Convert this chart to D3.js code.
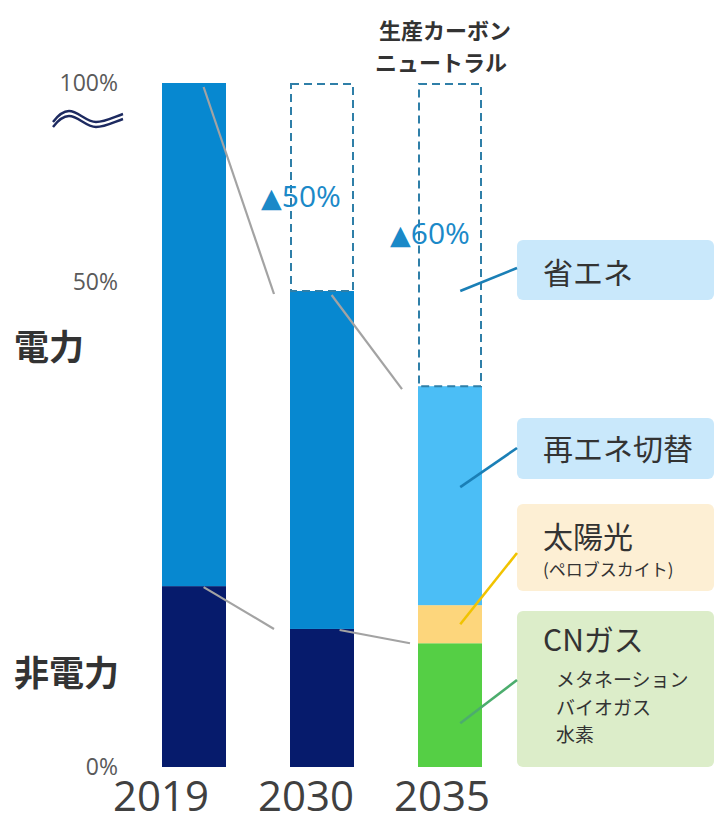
<!DOCTYPE html>
<html>
<head>
<meta charset="utf-8">
<script src="https://cdn.jsdelivr.net/npm/d3@7"></script>
<style>
  html, body { margin: 0; padding: 0; background: #fff; }
  svg { display: block; }
  .jp { font-family: "Noto Sans CJK JP", "Noto Sans", sans-serif; }
  .num { font-family: "Open Sans", "Noto Sans", sans-serif; }
</style>
</head>
<body>
<svg id="chart" width="718" height="824"></svg>
<script>
// Years on the x axis
const years = ["2019", "2030", "2035"];

// Stacked shares of energy use (% of 2019 level), bottom to top
const nonPower  = [19, 14.5, 0];   // 非電力
const power     = [81, 35.5, 0];   // 電力
const cnGas     = [0, 0, 13];      // CNガス
const solar     = [0, 0, 4];       // 太陽光 (ペロブスカイト)
const renewable = [0, 0, 23];      // 再エネ切替

// Reduction versus 2019 (shown as dashed outline up to 100%)
const reduction = [0, 50, 60];
const reductionLabels = ["", "50%", "60%"];

// Y axis tick values and labels
const yTicks = [0, 50, 100];
const yTickLabels = ["0%", "50%", "100%"];

// Callout boxes for the 2035 column
const calloutNames = ["省エネ", "再エネ切替", "太陽光", "CNガス"];
const calloutSub = [[], [], ["(ペロブスカイト)"], ["メタネーション", "バイオガス", "水素"]];
const calloutAnchor = [50, 29.4, 15, 4.6];   // value inside the 2035 bar where the pointer starts

const svg = d3.select("#chart");

// Broken y axis: 0–50% full height, 50–100% compressed
const y = d3.scaleLinear().domain([0, 50, 100]).range([767, 291, 83]);
const x = d3.scaleBand().domain(years).range([130, 514]).paddingInner(0.5).paddingOuter(0.25);
const bw = x.bandwidth();

const keys = ["nonPower", "power", "cnGas", "solar", "renewable"];
const rows = years.map((yr, i) => ({
  year: yr, nonPower: nonPower[i], power: power[i], cnGas: cnGas[i], solar: solar[i], renewable: renewable[i]
}));
const stacked = d3.stack().keys(keys)(rows);
const colors = {
  nonPower: "#061b6c",
  power: "#0788d0",
  cnGas: "#55cf45",
  solar: "#fdd67c",
  renewable: "#4bbef6"
};

// Y tick labels
svg.append("g").selectAll("text").data(yTicks).join("text")
  .attr("class", "num")
  .attr("x", 118)
  .attr("y", d => y(d))
  .attr("dy", d => d === 50 ? "-0.05em" : "0.35em")
  .attr("text-anchor", "end")
  .attr("font-size", 23)
  .attr("fill", "#5a5a5a")
  .text((d, i) => yTickLabels[i]);

// Axis break symbol under 100%
const brk = svg.append("g").attr("fill", "none").attr("stroke", "#1d2a60").attr("stroke-width", 2.4);
[0, 5].forEach(off => {
  brk.append("path")
    .attr("d", `M53,${122 + off} C59,${114 + off} 64,${111 + off} 69,${111 + off} C78,${111 + off} 86,${122 + off} 96,${122 + off} C105,${122 + off} 114,${117 + off} 123,${114 + off}`);
});

// Category labels on the left
svg.append("text").attr("class", "jp").attr("x", 14).attr("y", 360)
  .attr("font-size", 35).attr("font-weight", 700).attr("fill", "#333").text("電力");
svg.append("text").attr("class", "jp").attr("x", 14).attr("y", 686)
  .attr("font-size", 35).attr("font-weight", 700).attr("fill", "#333").text("非電力");

// Stacked bars
svg.append("g").selectAll("g").data(stacked).join("g")
  .attr("fill", d => colors[d.key])
  .selectAll("rect").data(d => d.filter(s => s[1] > s[0])).join("rect")
  .attr("x", d => x(d.data.year))
  .attr("y", d => y(d[1]))
  .attr("width", bw)
  .attr("height", d => y(d[0]) - y(d[1]));

// Dashed outline for the reduced portion
const totals = rows.map(r => keys.reduce((s, k) => s + r[k], 0));
svg.append("g").selectAll("rect").data(years.filter((_, i) => reduction[i] > 0)).join("rect")
  .attr("x", d => x(d) + 1)
  .attr("y", y(100) + 1)
  .attr("width", bw - 2)
  .attr("height", d => y(100 - reduction[years.indexOf(d)]) - y(100) - 1)
  .attr("fill", "none")
  .attr("stroke", "#2f7fa8")
  .attr("stroke-width", 2)
  .attr("stroke-dasharray", "8 5");

// Gray connectors between consecutive columns
const conn = svg.append("g").attr("stroke", "#a3a3a3").attr("stroke-width", 2.2).attr("fill", "none");
for (let i = 0; i < years.length - 1; i++) {
  const x1 = x(years[i]) + bw * 0.65;
  const x2 = x(years[i + 1]) - 16;
  // top of column
  conn.append("line").attr("x1", x1).attr("y1", y(totals[i]) + 4)
    .attr("x2", x2).attr("y2", y(totals[i + 1]) + 3);
  // top of non-power / CN gas
  const low = [nonPower[i] + cnGas[i], nonPower[i + 1] + cnGas[i + 1]];
  conn.append("line").attr("x1", x1 + (i ? 8 : 0)).attr("y1", y(low[0]) + 1)
    .attr("x2", x2 + (i ? 8 : 0)).attr("y2", y(low[1]));
}

// Reduction labels (▲ plus the percentage)
const red = svg.append("g").selectAll("text").data(years.filter((_, i) => reduction[i] > 0)).join("text")
  .attr("x", d => x(d) - 29 - (d === "2035" ? -1 : 0))
  .attr("y", d => y(100) + (d === "2030" ? 124 : 161))
  .attr("fill", "#1b89c8");
red.append("tspan").attr("font-family", "DejaVu Sans").attr("font-size", 27).text("▲");
red.append("tspan").attr("class", "num").attr("font-size", 30)
  .text(d => reductionLabels[years.indexOf(d)]);

// Column title above 2035, one text per line
const titleLines = ["生産カーボン", "ニュートラル"];
svg.append("g").selectAll("text").data(titleLines).join("text")
  .attr("class", "jp")
  .attr("text-anchor", "middle")
  .attr("x", (d, i) => i ? 441 : 445)
  .attr("y", (d, i) => i ? 71 : 39)
  .attr("font-size", 22).attr("font-weight", 700).attr("fill", "#333")
  .text(d => d);

// Year labels
const yearShift = [-33, -16, -8];
svg.append("g").selectAll("text").data(years).join("text")
  .attr("class", "num")
  .attr("x", (d, i) => x(d) + bw / 2 + yearShift[i])
  .attr("y", 811)
  .attr("text-anchor", "middle")
  .attr("font-size", 42)
  .attr("fill", "#404040")
  .text(d => d);

// Callouts for the 2035 column
const boxes = [
  { top: 240, bottom: 300, fill: "#c9e8fb", line: "#1a7fb6", end: 268, nameY: 284 },
  { top: 418, bottom: 479, fill: "#c9e8fb", line: "#1a7fb6", end: 448, nameY: 460 },
  { top: 504, bottom: 591, fill: "#fdefd4", line: "#f1c300", end: 553, nameY: 548 },
  { top: 611, bottom: 767, fill: "#dcedc9", line: "#4cad6d", end: 680, nameY: 651 }
];
const bx = 517, bRight = 714;
const cg = svg.append("g");
boxes.forEach((b, i) => {
  cg.append("rect").attr("x", bx).attr("y", b.top).attr("width", bRight - bx)
    .attr("height", b.bottom - b.top).attr("rx", 6).attr("fill", b.fill);
  cg.append("line")
    .attr("x1", x("2035") + bw * 0.66).attr("y1", y(calloutAnchor[i]))
    .attr("x2", bx).attr("y2", b.end)
    .attr("stroke", b.line).attr("stroke-width", 2.6);
  cg.append("text").attr("class", "jp").attr("x", 543).attr("y", b.nameY)
    .attr("font-size", 30).attr("fill", "#333").text(calloutNames[i]);
  calloutSub[i].forEach((s, j) => {
    if (i === 2) {
      cg.append("text").attr("class", "jp").attr("x", 543).attr("y", 576)
        .attr("font-size", 17).attr("fill", "#333").text(s);
    } else {
      cg.append("text").attr("class", "jp").attr("x", 556).attr("y", 687 + j * 27.5)
        .attr("font-size", 19).attr("fill", "#333").text(s);
    }
  });
});
</script>
</body>
</html>
